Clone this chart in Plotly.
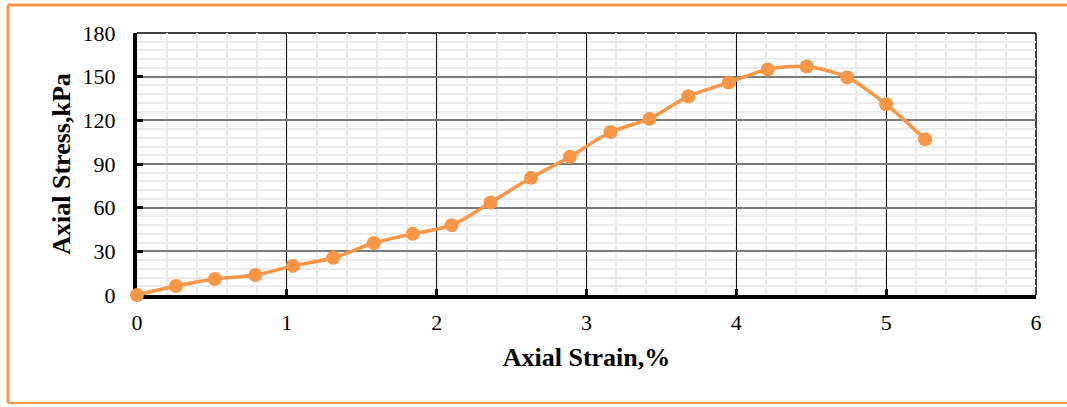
import plotly.graph_objects as go

strain = [0, 0.26, 0.52, 0.79, 1.04, 1.31, 1.58, 1.84, 2.10, 2.36, 2.63, 2.89,
          3.16, 3.42, 3.68, 3.95, 4.21, 4.47, 4.74, 5.00, 5.26]
stress = [0, 6.2, 11, 13.7, 20, 25.6, 35.7, 42, 48, 63.5, 80.5, 95,
          112, 121, 136.5, 146, 155, 157, 149.5, 131, 107]
x_ticks = [0, 1, 2, 3, 4, 5, 6]
y_ticks = [0, 30, 60, 90, 120, 150, 180]

orange = "#F79646"
font_family = "Liberation Serif"

fig = go.Figure()
fig.add_trace(go.Scatter(
    x=strain, y=stress, mode="lines+markers",
    line=dict(color=orange, width=3.5, shape="spline", smoothing=0.8),
    marker=dict(color=orange, size=14),
    cliponaxis=False, showlegend=False,
))

fig.update_layout(
    width=1067, height=407,
    margin=dict(l=137, r=31, t=33, b=112),
    paper_bgcolor="white", plot_bgcolor="white",
    font=dict(family=font_family, color="black", size=22),
    xaxis=dict(
        range=[0, 6], tickvals=x_ticks, ticktext=[str(v) for v in x_ticks],
        showgrid=True, gridcolor="#111111", gridwidth=1,
        minor=dict(dtick=0.2, showgrid=True, gridcolor="#EAEAEA", gridwidth=2, ticks=""),
        showline=True, linecolor="black", linewidth=4,
        ticks="inside", ticklen=6, tickwidth=3, tickcolor="black",
        ticklabelstandoff=5,
        zeroline=False, layer="below traces",
        title=dict(text="<b>Axial Strain,%</b>", font=dict(size=26), standoff=14),
    ),
    yaxis=dict(
        range=[0, 180], tickvals=y_ticks, ticktext=[str(v) for v in y_ticks],
        showgrid=True, gridcolor="#7a7a7a", gridwidth=1.5,
        minor=dict(dtick=6, showgrid=True, gridcolor="#EAEAEA", gridwidth=2, ticks=""),
        showline=True, linecolor="black", linewidth=4,
        ticks="inside", ticklen=6, tickwidth=3, tickcolor="black",
        ticklabelstandoff=13,
        zeroline=False, layer="below traces",
        title=dict(text="<b>Axial Stress,kPa</b>", font=dict(size=26), standoff=5),
    ),
)

# top and right frame lines of the plot area
fig.add_shape(type="line", xref="paper", yref="paper", x0=0, x1=1, y0=1, y1=1,
              line=dict(color="black", width=1.5), layer="below")
fig.add_shape(type="line", xref="paper", yref="paper", x0=1, x1=1, y0=0, y1=1,
              line=dict(color="black", width=1.5), layer="below")

# orange outer border (left, top, bottom)
L, T, B, R = (8 - 137) / 899, (295 - 5) / 262, (295 - 403) / 262, (1067 - 137) / 899
border = dict(color=orange, width=3)
fig.add_shape(type="line", xref="paper", yref="paper", x0=L, x1=R, y0=T, y1=T, line=border)
fig.add_shape(type="line", xref="paper", yref="paper", x0=L, x1=R, y0=B, y1=B, line=dict(color=orange, width=2))
fig.add_shape(type="line", xref="paper", yref="paper", x0=L, x1=L, y0=B, y1=T, line=border)

fig.write_html("out.html", config={"displayModeBar": False},
               post_script="document.body.style.margin='0';")
